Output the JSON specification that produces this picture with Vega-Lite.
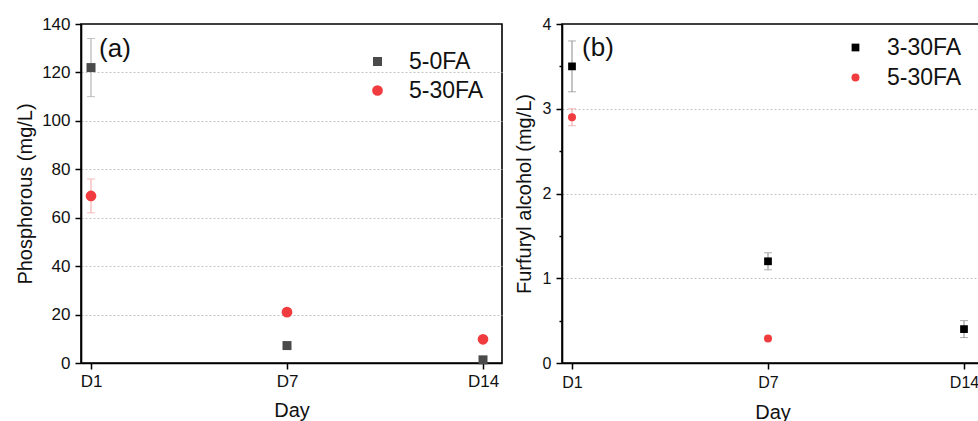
{
  "$schema": "https://vega.github.io/schema/vega-lite/v6.json",
  "padding": {"left": 14, "top": 14, "right": 0, "bottom": 0},
  "background": "white",
  "config": {
    "font": "Liberation Sans",
    "view": {"stroke": "#000", "strokeWidth": 1.6},
    "axis": {
      "domainColor": "#000", "domainWidth": 1.6,
      "ticks": true,
      "tickColor": "#000", "tickWidth": 1.5, "tickOpacity": 1,
      "labelColor": "#111", "titleColor": "#111",
      "labelFont": "Liberation Sans", "titleFont": "Liberation Sans",
      "titleFontWeight": "normal"
    },
    "legend": {
      "orient": "none",
      "labelFont": "Liberation Sans",
      "labelFontSize": 23,
      "labelColor": "#111",
      "labelOffset": 20,
      "rowPadding": 5,
      "symbolStrokeWidth": 0
    }
  },
  "spacing": 10,
  "resolve": {"scale": {"color": "independent", "shape": "independent", "size": "independent"}, "legend": {"color": "independent", "shape": "independent"}},
  "hconcat": [
    {
      "width": 421,
      "height": 339,
      "data": {"values": [
        {"day": "D1", "series": "5-0FA", "value": 122, "lo": 110, "hi": 134},
        {"day": "D7", "series": "5-0FA", "value": 7.2},
        {"day": "D14", "series": "5-0FA", "value": 1.3},
        {"day": "D1", "series": "5-30FA", "value": 69, "lo": 62, "hi": 76},
        {"day": "D7", "series": "5-30FA", "value": 21},
        {"day": "D14", "series": "5-30FA", "value": 9.8}
      ]},
      "encoding": {
        "x": {"field": "day", "type": "ordinal", "sort": ["D1", "D7", "D14"],
          "scale": {"type": "point", "padding": 0.074, "align": 0.345},
          "axis": {"title": "Day", "labelAngle": 0, "labelFontSize": 17, "titleFontSize": 20, "ticks": true, "tickSize": 6, "tickWidth": 1.5, "tickColor": "#000", "labelPadding": 4, "titlePadding": 11, "grid": false}}
      },
      "layer": [
        {
          "transform": [{"filter": "isValid(datum.lo)"}],
          "mark": {"type": "rule", "strokeWidth": 1},
          "encoding": {
            "y": {"field": "lo", "type": "quantitative", "scale": {"domain": [0, 140], "nice": false}},
            "y2": {"field": "hi"},
            "color": {"condition": {"test": "datum.series === '5-30FA'", "value": "#f4a0a0"}, "value": "#a8a8a8"}
          }
        },
        {
          "transform": [{"filter": "isValid(datum.lo)"}],
          "mark": {"type": "tick", "orient": "horizontal", "size": 8, "thickness": 1},
          "encoding": {
            "y": {"field": "lo", "type": "quantitative"},
            "color": {"condition": {"test": "datum.series === '5-30FA'", "value": "#f4a0a0"}, "value": "#a8a8a8"}
          }
        },
        {
          "transform": [{"filter": "isValid(datum.hi)"}],
          "mark": {"type": "tick", "orient": "horizontal", "size": 8, "thickness": 1},
          "encoding": {
            "y": {"field": "hi", "type": "quantitative"},
            "color": {"condition": {"test": "datum.series === '5-30FA'", "value": "#f4a0a0"}, "value": "#a8a8a8"}
          }
        },
        {
          "mark": {"type": "point", "filled": true, "opacity": 1},
          "encoding": {
            "y": {"field": "value", "type": "quantitative",
              "axis": {"title": "Phosphorous (mg/L)", "values": [0,10,20,30,40,50,60,70,80,90,100,110,120,130,140],
                "labelExpr": "datum.value % 20 === 0 ? format(datum.value, 'd') : ''",
                "ticks": true, "tickSize": 6,
                "tickDash": {"condition": {"test": "datum.value % 20 !== 0", "value": [3, 20]}, "value": []},
                "grid": true, "gridDash": [2, 2], "gridColor": "#c4c4c4", "gridWidth": 1,
                "gridOpacity": {"condition": {"test": "datum.value % 20 === 0 && datum.value > 0 && datum.value < 140", "value": 1}, "value": 0},
                "labelFontSize": 17, "titleFontSize": 20, "labelPadding": 5, "titlePadding": 6}},
            "color": {"field": "series", "type": "nominal", "scale": {"domain": ["5-0FA", "5-30FA"], "range": ["#4a4a4a", "#f03c3f"]},
              "legend": {"title": null, "legendX": 285, "legendY": 26, "symbolSize": 95}},
            "shape": {"field": "series", "type": "nominal", "scale": {"domain": ["5-0FA", "5-30FA"], "range": ["square", "circle"]}},
            "size": {"field": "series", "type": "nominal", "scale": {"domain": ["5-0FA", "5-30FA"], "range": [81, 115]}, "legend": null}
          }
        },
        {
          "data": {"values": [{"label": "(a)"}]},
          "mark": {"type": "text", "fontSize": 26, "fontWeight": "normal", "align": "left", "baseline": "middle", "dx": 8, "color": "#111"},
          "encoding": {"text": {"field": "label"}, "x": {"datum": "D1"}, "y": {"datum": 129.7}}
        }
      ]
    },
    {
      "width": 421,
      "height": 339,
      "data": {"values": [
        {"day": "D1", "series": "3-30FA", "value": 3.5, "lo": 3.2, "hi": 3.8},
        {"day": "D7", "series": "3-30FA", "value": 1.2, "lo": 1.1, "hi": 1.3},
        {"day": "D14", "series": "3-30FA", "value": 0.4, "lo": 0.3, "hi": 0.5},
        {"day": "D1", "series": "5-30FA", "value": 2.9, "lo": 2.8, "hi": 3.0},
        {"day": "D7", "series": "5-30FA", "value": 0.29}
      ]},
      "encoding": {
        "x": {"field": "day", "type": "ordinal", "sort": ["D1", "D7", "D14"],
          "scale": {"type": "point", "padding": 0.074, "align": 0.345, "domain": ["D1", "D7", "D14"]},
          "axis": {"title": "Day", "labelAngle": 0, "labelFontSize": 16, "titleFontSize": 20, "ticks": true, "tickSize": 6, "tickWidth": 1.5, "tickColor": "#000", "labelPadding": 5, "titlePadding": 12, "grid": false}}
      },
      "layer": [
        {
          "transform": [{"filter": "isValid(datum.lo)"}],
          "mark": {"type": "rule", "strokeWidth": 1},
          "encoding": {
            "y": {"field": "lo", "type": "quantitative", "scale": {"domain": [0, 4], "nice": false}},
            "y2": {"field": "hi"},
            "color": {"condition": {"test": "datum.series === '5-30FA'", "value": "#f4a0a0"}, "value": "#8a8a8a"}
          }
        },
        {
          "transform": [{"filter": "isValid(datum.lo)"}],
          "mark": {"type": "tick", "orient": "horizontal", "size": 8, "thickness": 1},
          "encoding": {
            "y": {"field": "lo", "type": "quantitative"},
            "color": {"condition": {"test": "datum.series === '5-30FA'", "value": "#f4a0a0"}, "value": "#8a8a8a"}
          }
        },
        {
          "transform": [{"filter": "isValid(datum.hi)"}],
          "mark": {"type": "tick", "orient": "horizontal", "size": 8, "thickness": 1},
          "encoding": {
            "y": {"field": "hi", "type": "quantitative"},
            "color": {"condition": {"test": "datum.series === '5-30FA'", "value": "#f4a0a0"}, "value": "#8a8a8a"}
          }
        },
        {
          "mark": {"type": "point", "filled": true, "opacity": 1},
          "encoding": {
            "y": {"field": "value", "type": "quantitative",
              "axis": {"title": "Furfuryl alcohol (mg/L)", "values": [0,0.5,1,1.5,2,2.5,3,3.5,4],
                "labelExpr": "datum.value % 1 === 0 ? format(datum.value, 'd') : ''",
                "ticks": true, "tickSize": 6,
                "tickDash": {"condition": {"test": "datum.value % 1 !== 0", "value": [3, 20]}, "value": []},
                "grid": true, "gridDash": [2, 2], "gridColor": "#c4c4c4", "gridWidth": 1,
                "gridOpacity": {"condition": {"test": "datum.value % 1 === 0 && datum.value > 0 && datum.value < 4", "value": 1}, "value": 0},
                "labelFontSize": 16, "titleFontSize": 20, "labelPadding": 5, "titlePadding": 8}},
            "color": {"field": "series", "type": "nominal", "scale": {"domain": ["3-30FA", "5-30FA"], "range": ["#000000", "#f03c3f"]},
              "legend": {"title": null, "legendX": 282, "legendY": 12, "symbolSize": 60, "rowPadding": 6}},
            "shape": {"field": "series", "type": "nominal", "scale": {"domain": ["3-30FA", "5-30FA"], "range": ["square", "circle"]}},
            "size": {"field": "series", "type": "nominal", "scale": {"domain": ["3-30FA", "5-30FA"], "range": [60, 64]}, "legend": null}
          }
        },
        {
          "data": {"values": [{"label": "(b)"}]},
          "mark": {"type": "text", "fontSize": 26, "fontWeight": "normal", "align": "left", "baseline": "middle", "dx": 10, "color": "#111"},
          "encoding": {"text": {"field": "label"}, "x": {"datum": "D1"}, "y": {"datum": 3.717}}
        }
      ]
    }
  ]
}
